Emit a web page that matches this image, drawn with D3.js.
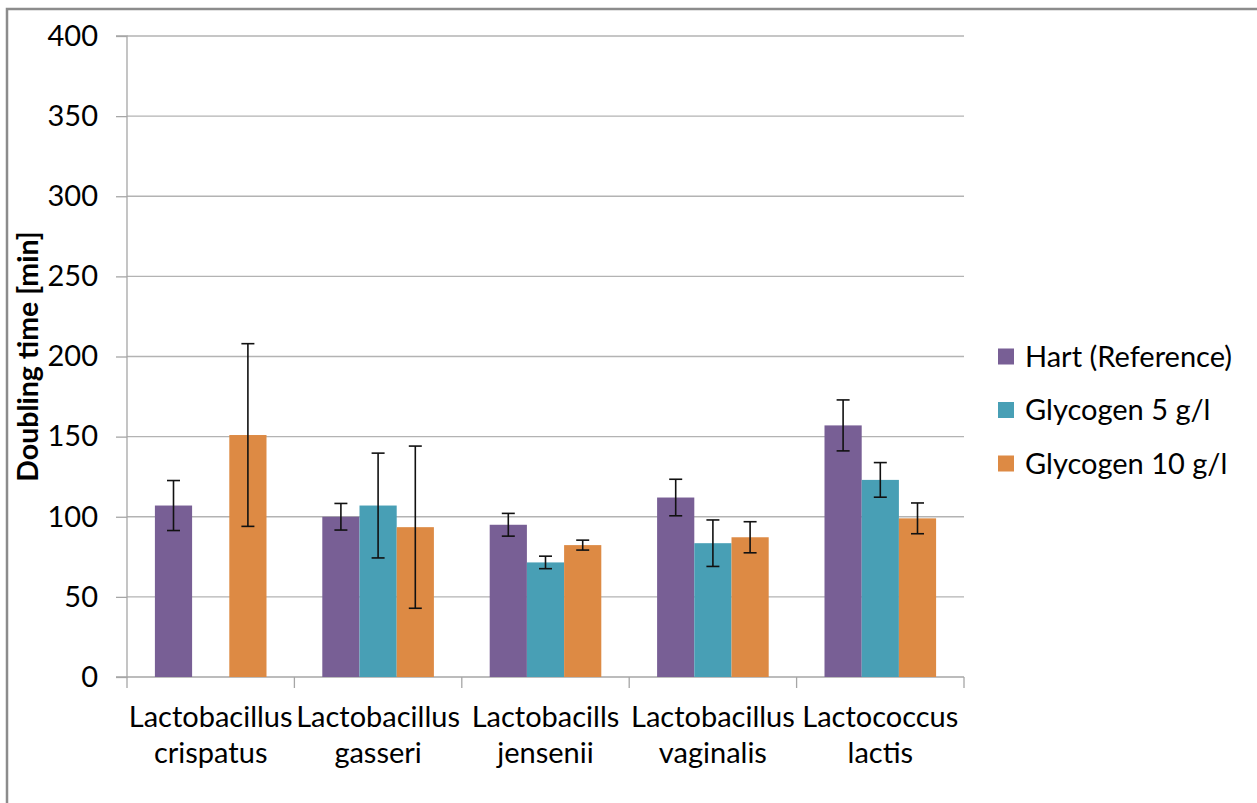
<!DOCTYPE html>
<html>
<head>
<meta charset="utf-8">
<script src="https://cdn.jsdelivr.net/npm/d3@7"></script>
<style>
  html, body { margin: 0; padding: 0; background: #fff; }
  svg { display: block; font-family: Lato, "Open Sans", sans-serif; }
</style>
</head>
<body>
<svg id="chart" width="1257" height="803"></svg>
<script>
// ---- data ----
const categories = [
  ["Lactobacillus", "crispatus"],
  ["Lactobacillus", "gasseri"],
  ["Lactobacills", "jensenii"],
  ["Lactobacillus", "vaginalis"],
  ["Lactococcus", "lactis"]
];
const seriesNames = ["Hart (Reference)", "Glycogen 5 g/l", "Glycogen 10 g/l"];
const seriesColors = ["#785f95", "#489fb5", "#dd8a44"];
// null = no bar
const hartValues   = [107, 100, 95, 112, 157];
const hartErrors   = [15.6, 8.3, 7.1, 11.4, 15.9];
const gly5Values   = [null, 107, 71.5, 83.5, 123];
const gly5Errors   = [null, 32.7, 3.9, 14.5, 10.8];
const gly10Values  = [151, 93.5, 82.3, 87.2, 99];
const gly10Errors  = [57, 50.6, 3.1, 9.7, 9.6];
const yTicks = [0, 50, 100, 150, 200, 250, 300, 350, 400];

const seriesValues = [hartValues, gly5Values, gly10Values];
const seriesErrors = [hartErrors, gly5Errors, gly10Errors];

// ---- layout ----
const svg = d3.select("#chart");
const plot = { left: 127, right: 964, top: 36, bottom: 677 };

// outer frame
svg.append("path")
  .attr("d", "M7,803 V9 H1257")
  .attr("fill", "none")
  .attr("stroke", "#8c8c8c")
  .attr("stroke-width", 2.5);

const x0 = d3.scaleBand()
  .domain(d3.range(categories.length))
  .range([plot.left, plot.right])
  .paddingInner(0).paddingOuter(0);

// gap width 150% => inner band occupies 3/4.5 of category
const bw = x0.bandwidth() / 4.5;
const x1 = d3.scaleBand()
  .domain(d3.range(seriesNames.length))
  .range([0.75 * bw, 3.75 * bw])
  .padding(0);

const y = d3.scaleLinear().domain([0, 400]).range([plot.bottom, plot.top]);

// gridlines
svg.append("g")
  .selectAll("line")
  .data(yTicks.filter(t => t > 0))
  .join("line")
  .attr("x1", plot.left).attr("x2", plot.right)
  .attr("y1", d => y(d)).attr("y2", d => y(d))
  .attr("stroke", "#b3b3b3").attr("stroke-width", 1.3);

// y axis
const yAxis = svg.append("g")
  .attr("transform", `translate(${plot.left},0)`)
  .call(d3.axisLeft(y).tickValues(yTicks).tickSize(11).tickPadding(18));
yAxis.select(".domain").attr("stroke", "#a6a6a6").attr("stroke-width", 1.3)
  .attr("d", `M-11,${plot.top}H0V${plot.bottom}H-11`);
yAxis.selectAll(".tick line").attr("stroke", "#a6a6a6").attr("stroke-width", 1.3);
yAxis.selectAll(".tick text")
  .attr("font-size", 29).attr("fill", "#000")
  .attr("font-family", "Lato, sans-serif");

// x axis
const boundaries = d3.range(categories.length + 1).map(i => plot.left + i * x0.bandwidth());
svg.append("line")
  .attr("x1", plot.left).attr("x2", plot.right)
  .attr("y1", plot.bottom).attr("y2", plot.bottom)
  .attr("stroke", "#a6a6a6").attr("stroke-width", 1.3);
svg.append("g").selectAll("line")
  .data(boundaries).join("line")
  .attr("x1", d => d).attr("x2", d => d)
  .attr("y1", plot.bottom).attr("y2", plot.bottom + 11)
  .attr("stroke", "#a6a6a6").attr("stroke-width", 1.3);

// category labels
const catG = svg.append("g").selectAll("text")
  .data(categories).join("text")
  .attr("x", (d, i) => x0(i) + x0.bandwidth() / 2)
  .attr("y", 727)
  .attr("text-anchor", "middle")
  .attr("font-size", 29)
  .attr("fill", "#000");
catG.append("tspan").attr("x", (d, i) => x0(i) + x0.bandwidth() / 2).text(d => d[0]);
catG.append("tspan").attr("x", (d, i) => x0(i) + x0.bandwidth() / 2).attr("dy", 36).text(d => d[1]);

// bars
const barData = [];
seriesValues.forEach((vals, s) => {
  vals.forEach((v, c) => {
    if (v !== null) barData.push({ s, c, v, e: seriesErrors[s][c] });
  });
});

svg.append("g").selectAll("rect")
  .data(barData).join("rect")
  .attr("x", d => x0(d.c) + x1(d.s))
  .attr("width", x1.bandwidth())
  .attr("y", d => y(d.v))
  .attr("height", d => y(0) - y(d.v))
  .attr("fill", d => seriesColors[d.s]);

// error bars
const eg = svg.append("g").attr("stroke", "#111").attr("stroke-width", 1.6);
barData.forEach(d => {
  const cx = x0(d.c) + x1(d.s) + x1.bandwidth() / 2;
  const capW = 6.5;
  eg.append("line").attr("x1", cx).attr("x2", cx)
    .attr("y1", y(d.v + d.e)).attr("y2", y(d.v - d.e));
  eg.append("line").attr("x1", cx - capW).attr("x2", cx + capW)
    .attr("y1", y(d.v + d.e)).attr("y2", y(d.v + d.e));
  eg.append("line").attr("x1", cx - capW).attr("x2", cx + capW)
    .attr("y1", y(d.v - d.e)).attr("y2", y(d.v - d.e));
});

// y axis title
svg.append("text")
  .attr("transform", `translate(38,${(plot.top + plot.bottom) / 2}) rotate(-90)`)
  .attr("text-anchor", "middle")
  .attr("font-size", 28.5)
  .attr("font-weight", "bold")
  .attr("fill", "#000")
  .text("Doubling time [min]");

// legend
const lg = svg.append("g").selectAll("g")
  .data(seriesNames).join("g")
  .attr("transform", (d, i) => `translate(998,${356.5 + i * 53.5})`);
lg.append("rect")
  .attr("x", 0).attr("y", -8).attr("width", 16).attr("height", 16)
  .attr("fill", (d, i) => seriesColors[i]);
lg.append("text")
  .attr("x", 27).attr("y", 10)
  .attr("font-size", 29)
  .attr("fill", "#000")
  .text(d => d);
</script>
</body>
</html>
